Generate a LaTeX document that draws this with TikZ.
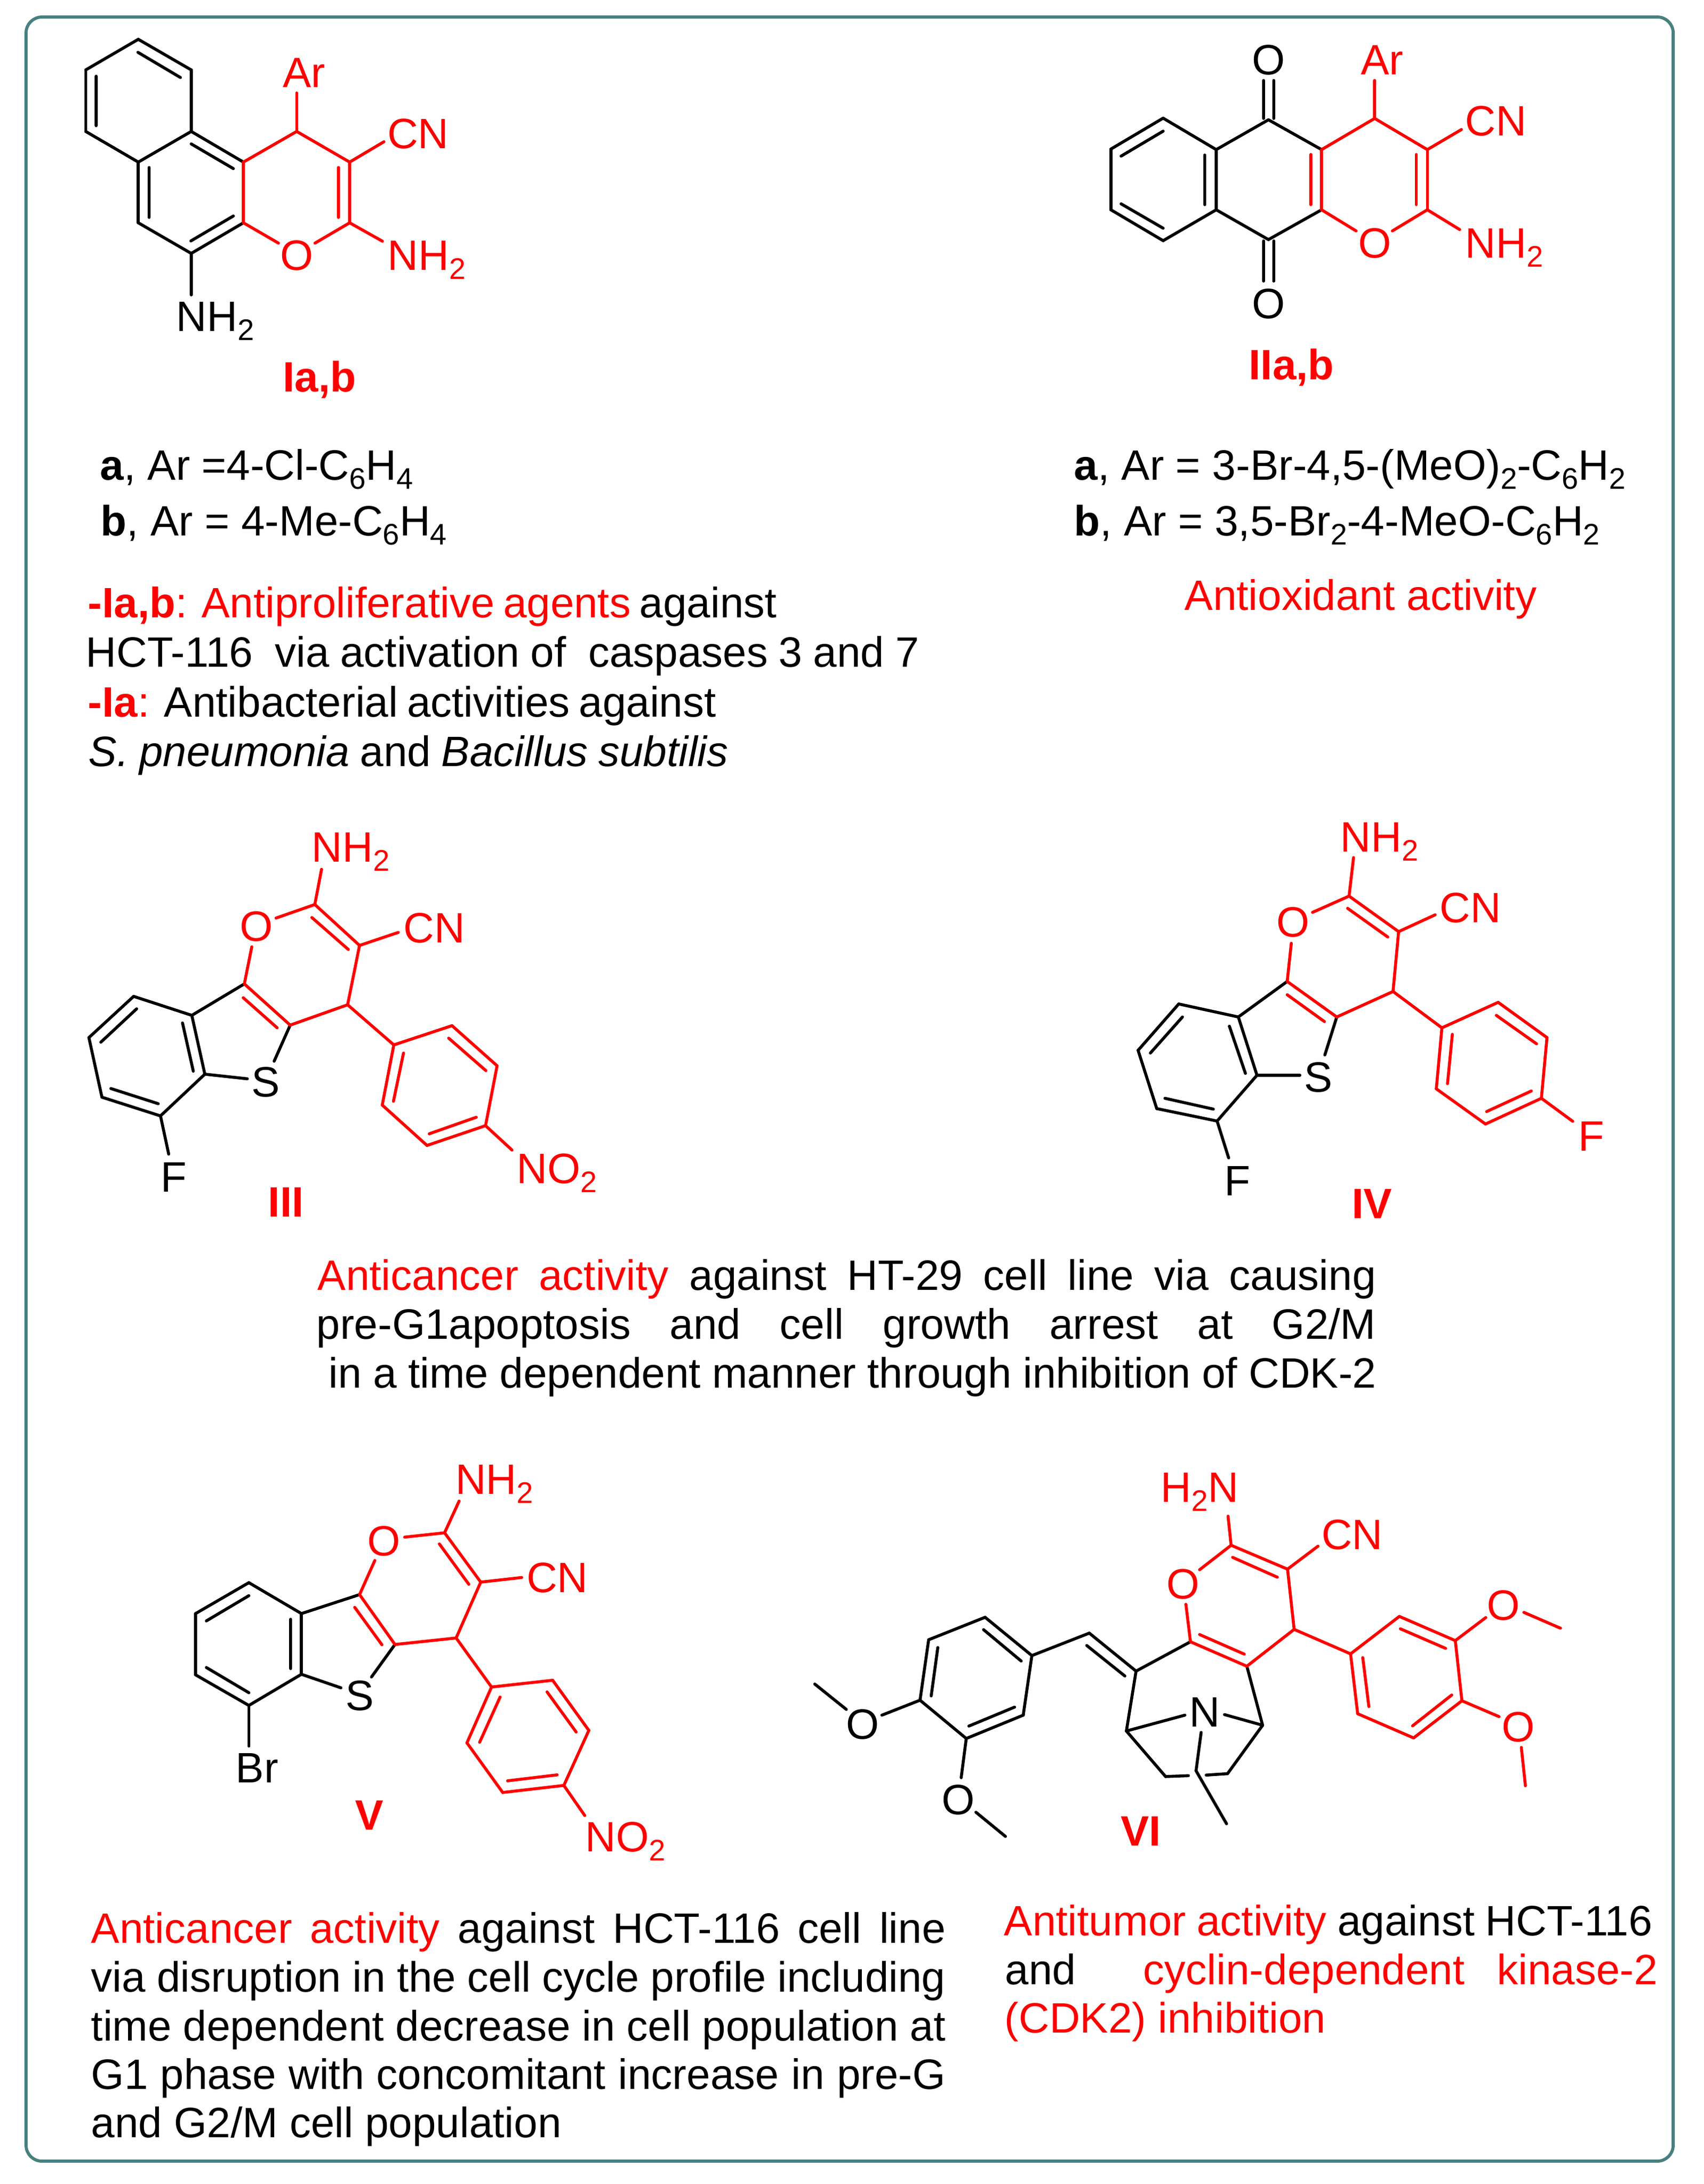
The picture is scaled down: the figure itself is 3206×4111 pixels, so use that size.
\documentclass[tikz,border=0pt]{standalone}
\usepackage{fontspec}
\setmainfont{Liberation Sans}
\definecolor{frame}{HTML}{47807F}
\definecolor{hot}{HTML}{FF0000}
\newcommand\sbs[1]{\raisebox{-4.3pt}{\fontsize{14}{14}\selectfont #1}}
\newcommand\pts[1]{\foreach \n/\x/\y in {#1} \coordinate (\n) at (\x,\y);}
\newcommand\kb[1]{\foreach \p/\q in {#1} \draw[bondk] (\p)--(\q);}
\newcommand\rb[1]{\foreach \p/\q in {#1} \draw[bondr] (\p)--(\q);}
\tikzset{
  bondk/.style={draw=black,line width=1.4pt,line cap=round,line join=round},
  bondr/.style={draw=hot,line width=1.4pt,line cap=round,line join=round},
  lab/.style={inner sep=0pt,anchor=base west,font=\fontsize{20}{24}\selectfont,text=hot},
  labk/.style={lab,text=black},
  ctr/.style={inner sep=0pt,anchor=base,font=\fontsize{20}{24}\selectfont,text=hot},
  ctrk/.style={ctr,text=black},
  tag/.style={lab,font=\fontsize{20}{24}\selectfont\bfseries},
  txt/.style={inner sep=0pt,anchor=base west,font=\fontsize{20}{24}\selectfont,text=black},
  zsmall/.style={x=0.17538pt,y=-0.12755pt},
}
\begin{document}
\begin{tikzpicture}[x=0.25pt,y=-0.25pt]
\useasboundingbox (0,0) rectangle (3206,4111);
\fill[white] (0,0) rectangle (3206,4111);
\draw[frame,line width=1.45pt,rounded corners=7.5pt] (49,32) rectangle (3149,4068);

% ---------- I ----------
\begin{scope}[zsmall]
\pts{a1/371/145,a2/513/258,a3/513/485,a4/371/598,a5/230/485,a6/230/258,a7/653/598,a8/653/822,a9/513/935,a10/371/822,a11/796/485,a12/938/598,a13/938/822,aAr/796/343,aCN/1030/523,aO1/747/897,aO2/845/897,aN1/1026/890,aN2/513/1088}
\kb{a1/a2,a2/a3,a3/a4,a4/a5,a5/a6,a6/a1,a3/a7,a4/a10,a10/a9,a9/a8,a9/aN2}
\draw[bondk] (370,193)--(484,286) (258,281)--(258,464) (513,531)--(626,622) (400,618)--(400,802) (512,889)--(626,797);
\rb{a7/a11,a11/a12,a12/a13,a7/a8,a8/aO1,a13/aO2,a13/aN1,a11/aAr,a12/aCN}
\draw[bondr] (908,618)--(908,802);
\node[lab] (aLAr) at (758,322) {Ar};
\node[lab] (aLCN) at (1038,547) {CN};
\node[ctr] (aLO) at (796,997) {O};
\node[lab] (aLN) at (1039,997) {NH\sbs{2}};
\node[labk] (aLNk) at (472,1222) {NH\sbs{2}};
\node[tag] (aTag) at (758,1445) {Ia,b};
\end{scope}

% ---------- II ----------
\begin{scope}[x=0.20823pt,y=-0.12755pt,shift={(475pt,0pt)}]
\pts{b1/347/436,b2/467/552,b3/467/774,b4/347/888,b5/229/774,b6/229/550,b7/585/442,b8/705/552,b9/705/774,b10/585/884,b11/825/437,b12/944/552,b13/944/774,bAr/825/297,bCN/1021/478,bO1/783/852,bO2/865/852,bN/1017/847}
\kb{b1/b2,b2/b3,b3/b4,b4/b5,b5/b6,b6/b1,b2/b7,b7/b8,b3/b10,b10/b9}
\draw[bondk] (347,484)--(252,576) (441,572)--(441,755) (252,752)--(347,842) (574,297)--(574,437) (597,297)--(597,437) (574,889)--(574,1037) (597,889)--(597,1037);
\rb{b8/b9,b8/b11,b11/b12,b12/b13,b9/bO1,b13/bO2,b13/bN,b11/bAr,b12/bCN}
\draw[bondr] (681,570)--(681,755) (919,570)--(919,755);
\node[ctrk] (bOt) at (585,275) {O};
\node[ctrk] (bOb) at (585,1175) {O};
\node[lab] (bLAr) at (793,275) {Ar};
\node[lab] (bLCN) at (1029,500) {CN};
\node[ctr] (bLO) at (825,951) {O};
\node[lab] (bLN) at (1029,951) {NH\sbs{2}};
\node[tag] (bTag) at (540,1400) {IIa,b};
\end{scope}

% ---------- III ----------
\begin{scope}[zsmall,shift={(25pt,-375pt)}]
\pts{c1/216/736,c2/372/806,c3/407/1023,c4/288/1177,c5/131/1108,c6/96/888,c7/513/690,c8/636/842,c9/790/767,c10/822/548,c11/702/397,c12/914/915,c13/1070/844,c14/1191/992,c15/1160/1213,c16/1003/1286,c17/883/1137,cS1/521/1040,cS2/593/975,cF/310/1318,cO1/598/447,cO2/533/553,cN/720/267,cCN/926/500,cNO/1231/1303}
\kb{c1/c2,c2/c3,c3/c4,c4/c5,c5/c6,c6/c1,c2/c7,c3/cS1,c8/cS2,c4/cF}
\draw[bondk] (224,782)--(128,905) (347,834)--(376,1012) (155,1076)--(282,1132);
\rb{c7/c8,c8/c9,c9/c10,c10/c11,c11/cO1,c7/cO2,c11/cN,c10/cCN,c9/c12,c12/c13,c13/c14,c14/c15,c15/c16,c16/c17,c17/c12,c15/cNO}
\draw[bondr] (510,741)--(601,852) (694,445)--(792,563) (1061,890)--(1161,1010) (1135,1182)--(1009,1243) (940,945)--(913,1123);
\node[lab] (cLN) at (693,240) {NH\sbs{2}};
\node[ctr] (cLO) at (545,532) {O};
\node[lab] (cLCN) at (939,538) {CN};
\node[ctrk] (cLS) at (570,1106) {S};
\node[labk] (cLF) at (288,1457) {F};
\node[lab] (cLNO) at (1243,1425) {NO\sbs{2}};
\node[tag] (cTag) at (576,1550) {III};
\end{scope}

% ---------- IV ----------
\begin{scope}[zsmall,shift={(512.5pt,-375pt)}]
\pts{d1/240/764,d2/400/812,d3/450/1027,d4/343/1196,d5/181/1150,d6/131/935,d7/531/681,d8/664/812,d9/815/718,d10/830/497,d11/697/366,d12/946/852,d13/1097/758,d14/1228/888,d15/1213/1112,d16/1063/1207,d17/931/1077,dS1/565/1027,dS2/632/952,dF/374/1332,dO1/599/426,dO2/542/540,dN/709/224,dCN/928/435,dFr/1297/1197}
\kb{d1/d2,d2/d3,d3/d4,d4/d5,d5/d6,d6/d1,d2/d7,d3/dS1,d8/dS2,d4/dF}
\draw[bondk] (250,812)--(164,945) (376,846)--(419,1020) (203,1112)--(333,1152);
\rb{d7/d8,d8/d9,d9/d10,d10/d11,d11/dO1,d7/dO2,d11/dN,d10/dCN,d9/d12,d12/d13,d13/d14,d14/d15,d15/d16,d16/d17,d17/d12,d15/dFr}
\draw[bondr] (531,730)--(631,829) (693,411)--(801,517) (1092,806)--(1200,911) (1186,1085)--(1066,1161) (974,876)--(961,1058);
\node[lab] (dLN) at (673,203) {NH\sbs{2}};
\node[ctr] (dLO) at (547,517) {O};
\node[lab] (dLCN) at (939,464) {CN};
\node[ctrk] (dLS) at (614,1088) {S};
\node[labk] (dLF) at (361,1470) {F};
\node[lab] (dLFr) at (1311,1307) {F};
\node[tag] (dTag) at (704,1555) {IV};
\end{scope}

% ---------- V ----------
\begin{scope}[zsmall,shift={(75pt,-675pt)}]
\pts{f1/240/547,f2/381/661,f3/381/885,f4/240/1000,f5/97/887,f6/97/661,f7/537/591,f8/632/775,f9/796/751,f10/862/545,f11/765/363,f12/891/932,f13/1055/907,f14/1152/1092,f15/1085/1295,f16/921/1321,f17/825/1138,fS1/487/935,fS2/569/895,fBr/240/1150,fO1/658/379,fO2/578/465,fN/804/246,fCN/972/528,fNO/1141/1406}
\kb{f1/f2,f2/f3,f3/f4,f4/f5,f5/f6,f6/f1,f2/f7,f3/fS1,f8/fS2,f4/fBr}
\draw[bondk] (240,595)--(126,688) (352,682)--(352,864) (126,860)--(240,953);
\rb{f7/f8,f8/f9,f9/f10,f10/f11,f11/fO1,f7/fO2,f11/fN,f10/fCN,f9/f12,f12/f13,f13/f14,f14/f15,f15/f16,f16/f17,f17/f12,f15/fNO}
\draw[bondr] (524,638)--(597,776) (751,404)--(830,553) (1040,950)--(1118,1098) (1067,1256)--(934,1278) (914,969)--(859,1136);
\node[lab] (fLN) at (793,220) {NH\sbs{2}};
\node[ctr] (fLO) at (602,448) {O};
\node[lab] (fLCN) at (984,584) {CN};
\node[ctrk] (fLS) at (537,1018) {S};
\node[labk] (fLBr) at (204,1285) {Br};
\node[lab] (fLNO) at (1141,1540) {NO\sbs{2}};
\node[tag] (fTag) at (524,1460) {V};
\end{scope}

% ---------- VI ----------
\begin{scope}[x=0.23916pt,y=-0.13552pt,shift={(375pt,-675pt)}]
\pts{e1/370/635,e2/462/768,e3/445/975,e4/333/1056,e5/242/923,e6/259/713,v1/575/690,v2/667/822,eO1/167/975,eM1a/97/955,eM1b/35/867,eO2/323/1192,eM2a/352/1312,eM2b/410/1396,g1/648/1030,g2/725/1188,g2e/770/1185,g3s/805/1183,g3/847/1178,g4/916/1010,gNa/763/975,gNb/841/973,gNc/795/1035,gM/785/1168,gMe/845/1352,k1/774/720,k2/885/805,h1/978/677,h2/965/468,h3/854/385,hO1/792/470,hO2/765/590,hN/848/284,hCN/1025/388,i1/1089/762,i2/1185/632,i3/1295/716,i4/1308/925,i5/1213/1054,i6/1103/970,iO1/1355/636,iM1a/1430/618,iM1b/1502/673,iO2/1381/980,iM2a/1425/1087,iM2b/1433/1220}
\kb{e1/e2,e2/e3,e3/e4,e4/e5,e5/e6,e6/e1,e2/v1,v1/v2,e5/eO1,eM1a/eM1b,e4/eO2,eM2a/eM2b,v2/k1,v2/g1,g1/g2,g2/g2e,g3s/g3,g3/g4,g4/k2,g1/gNa,g4/gNb,gNc/gM,gM/gMe}
\draw[bondk] (570,733)--(645,839) (367,678)--(441,787) (277,740)--(264,908) (338,1013)--(428,947);
\rb{k1/k2,k2/h1,h1/h2,h2/h3,h3/hO1,k1/hO2,h3/hN,h2/hCN,h1/i1,i1/i2,i2/i3,i3/i4,i4/i5,i5/i6,i6/i1,i3/iO1,iM1a/iM1b,i4/iO2,iM2a/iM2b}
\draw[bondr] (792,695)--(880,763) (857,427)--(945,496) (1187,675)--(1276,743) (1288,905)--(1211,1012) (1125,945)--(1113,775);
\node[ctrk] (eLO1) at (129,1058) {O};
\node[ctrk] (eLO2) at (317,1320) {O};
\node[ctrk] (gLN) at (802,1015) {N};
\node[ctr] (hLO) at (759,570) {O};
\node[lab] (hLN) at (715,235) {H\sbs{2}N};
\node[lab] (hLCN) at (1031,400) {CN};
\node[ctr] (iLO1) at (1390,645) {O};
\node[ctr] (iLO2) at (1419,1067) {O};
\node[tag] (gTag) at (636,1428) {VI};
\end{scope}

% ---------- texts ----------
\node[txt] (t1) at (188,903) {\textbf{a}, Ar =4-Cl-C\sbs{6}H\sbs{4}};
\node[txt] (t2) at (189,1008) {\textbf{b}, Ar = 4-Me-C\sbs{6}H\sbs{4}};
\node[txt] (t3) at (165,1162) {\hbox to 324pt{\textcolor{hot}{\textbf{-Ia,b}: Antiproliferative agents} against}};
\node[txt] (t4) at (161,1255) {\hbox to 392pt{HCT-116\ \ via activation of\ \ caspases 3 and 7}};
\node[txt] (t5) at (165,1349) {\hbox to 295.5pt{\textcolor{hot}{\textbf{-Ia}:} Antibacterial activities against}};
\node[txt] (t6) at (166,1442) {\hbox to 301pt{\textit{S. pneumonia} and \textit{Bacillus subtilis}}};

\node[txt] (u1) at (2021,903) {\textbf{a}, Ar = 3-Br-4,5-(MeO)\sbs{2}-C\sbs{6}H\sbs{2}};
\node[txt] (u2) at (2021,1008) {\textbf{b}, Ar = 3,5-Br\sbs{2}-4-MeO-C\sbs{6}H\sbs{2}};
\node[txt,text=hot] (u3) at (2229,1148) {Antioxidant activity};

\node[txt] (m1) at (597,2428) {\hbox to 498pt{\textcolor{hot}{Anticancer activity} against HT-29 cell line via causing}};
\node[txt] (m2) at (595,2520) {\hbox to 498.5pt{pre-G1apoptosis and cell growth arrest at G2/M}};
\node[txt] (m3) at (618,2612) {\hbox to 493pt{in a time dependent manner through inhibition of CDK-2}};

\node[txt] (w1) at (171,3657) {\hbox to 402pt{\textcolor{hot}{Anticancer activity} against HCT-116 cell line}};
\node[txt] (w2) at (171,3749) {\hbox to 402pt{via disruption in the cell cycle profile including}};
\node[txt] (w3) at (171,3841) {\hbox to 402pt{time dependent decrease in cell population at}};
\node[txt] (w4) at (171,3932) {\hbox to 402pt{G1 phase with concomitant increase in pre-G}};
\node[txt] (w5) at (171,4023) {and G2/M cell population};

\node[txt] (r1) at (1889,3643) {\hbox to 305pt{\textcolor{hot}{Antitumor activity} against HCT-116}};
\node[txt] (r2) at (1891,3735) {\hbox to 307pt{and\hspace{16.5pt} \textcolor{hot}{cyclin-dependent kinase-2}}};
\node[txt,text=hot] (r3) at (1890,3826) {(CDK2) inhibition};
\end{tikzpicture}
\end{document}
